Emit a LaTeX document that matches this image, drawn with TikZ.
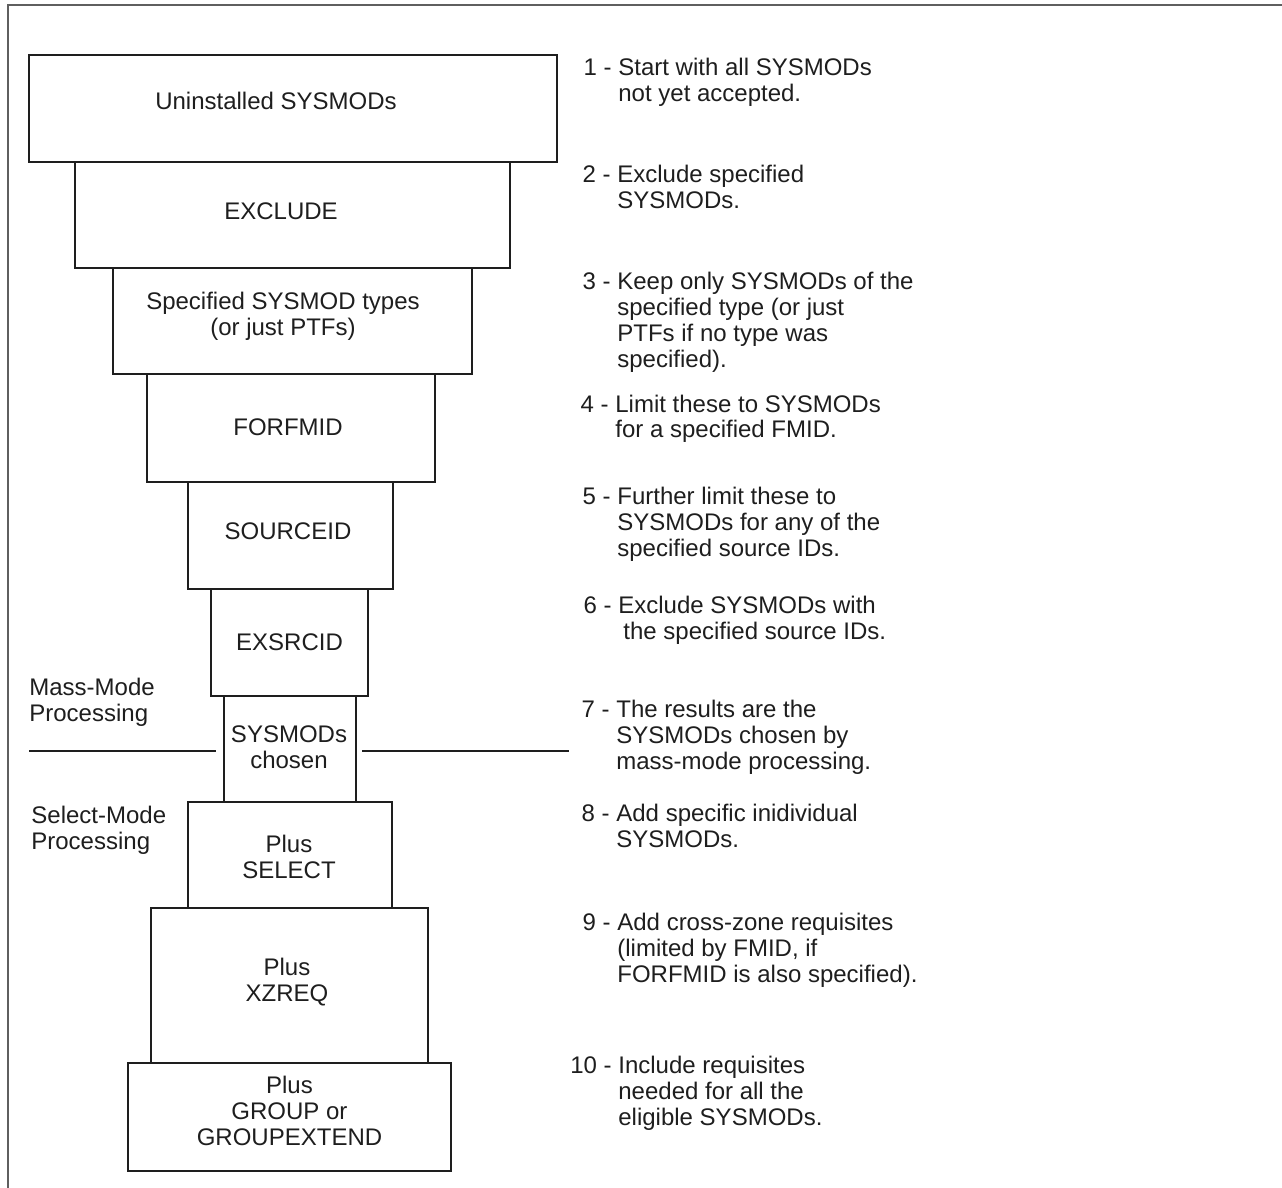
\documentclass[tikz,border=0pt]{standalone}
\usepackage{fontspec}
\setmainfont{Liberation Sans}
\usetikzlibrary{fit}
\definecolor{ink}{RGB}{30,30,30}
\definecolor{framegray}{RGB}{95,95,95}
\newcommand{\stepnum}[1]{\leavevmode\llap{#1 - }}
\begin{document}
\begin{tikzpicture}[x=0.5pt,y=-0.5pt,
  stage/.style={draw=ink, line width=1.3pt, inner sep=0pt, fit={#1}},
  boxlabel/.style={align=center, inner sep=0pt, text=ink, font=\fontsize{12}{13}\selectfont},
  note/.style={anchor=base west, inner sep=0pt, text=ink, font=\fontsize{12}{13}\selectfont},
  divider/.style={draw=ink, line width=0.8pt},
  frameline/.style={draw=framegray, line width=1pt}]
\useasboundingbox (0,0) rectangle (1282,1188);
% frame
\coordinate (fTL) at (8,5);
\coordinate (fTR) at (1282,5);
\coordinate (fBL) at (8,1188);
\draw[frameline] (fTR) -- (fTL) -- (fBL);
% funnel boxes
\node[stage={(29,55) (557,162)}] (b1) {};
\node[stage={(75,162) (510,268)}] (b2) {};
\node[stage={(113,268) (472,374)}] (b3) {};
\node[stage={(147,374) (435,482)}] (b4) {};
\node[stage={(188,482) (393,589)}] (b5) {};
\node[stage={(211,589) (368,696)}] (b6) {};
\node[stage={(224,696) (356,802)}] (b7) {};
\node[stage={(188,802) (392,908)}] (b8) {};
\node[stage={(151,908) (428,1063)}] (b9) {};
\node[stage={(128,1063) (451,1171)}] (b10) {};
% box labels
\node[boxlabel] (t1) at (276,101) {Uninstalled SYSMODs};
\node[boxlabel] (t2) at (281,211) {EXCLUDE};
\node[boxlabel] (t3) at (283,316) {Specified SYSMOD types\\(or just PTFs)};
\node[boxlabel] (t4) at (288,427) {FORFMID};
\node[boxlabel] (t5) at (288,531) {SOURCEID};
\node[boxlabel] (t6) at (289.5,642) {EXSRCID};
\node[boxlabel] (t7) at (289,747) {SYSMODs\\chosen};
\node[boxlabel] (t8) at (289,857) {Plus\\SELECT};
\node[boxlabel] (t9) at (287,982) {Plus\\XZREQ};
\node[boxlabel] (t10) at (289.5,1111) {Plus\\GROUP or\\GROUPEXTEND};
% dividers
\coordinate (dL1) at (29,751);
\coordinate (dL2) at (216,751);
\coordinate (dR1) at (362,751);
\coordinate (dR2) at (569,751);
\draw[divider] (dL1) -- (dL2);
\draw[divider] (dR1) -- (dR2);
% mode labels
\node[note] (mass) at (29,695) {\parbox[t]{120pt}{Mass-Mode\\Processing}};
\node[note] (sel) at (31,823) {\parbox[t]{120pt}{Select-Mode\\Processing}};
% step notes
\node[note] (n1) at (618,76) {\parbox[t]{220pt}{\stepnum{1}Start with all SYSMODs\\not yet accepted.}};
\node[note] (n2) at (617,183) {\parbox[t]{220pt}{\stepnum{2}Exclude specified\\SYSMODs.}};
\node[note] (n3) at (617,290) {\parbox[t]{220pt}{\stepnum{3}Keep only SYSMODs of the\\specified type (or just\\PTFs if no type was\\specified).}};
\node[note] (n4) at (615,412) {\parbox[t]{220pt}{\stepnum{4}Limit these to SYSMODs\\for a specified FMID.}};
\node[note] (n5) at (617,504) {\parbox[t]{220pt}{\stepnum{5}Further limit these to\\SYSMODs for any of the\\specified source IDs.}};
\node[note] (n6) at (618,613) {\parbox[t]{220pt}{\stepnum{6}Exclude SYSMODs with\\\hspace*{2.5pt}the specified source IDs.}};
\node[note] (n7) at (616,717) {\parbox[t]{220pt}{\stepnum{7}The results are the\\SYSMODs chosen by\\mass-mode processing.}};
\node[note] (n8) at (616,821) {\parbox[t]{220pt}{\stepnum{8}Add specific inidividual\\SYSMODs.}};
\node[note] (n9) at (617,930) {\parbox[t]{220pt}{\stepnum{9}Add cross-zone requisites\\(limited by FMID, if\\FORFMID is also specified).}};
\node[note] (n10) at (618,1073) {\parbox[t]{220pt}{\stepnum{10}Include requisites\\needed for all the\\eligible SYSMODs.}};
\end{tikzpicture}
\end{document}
